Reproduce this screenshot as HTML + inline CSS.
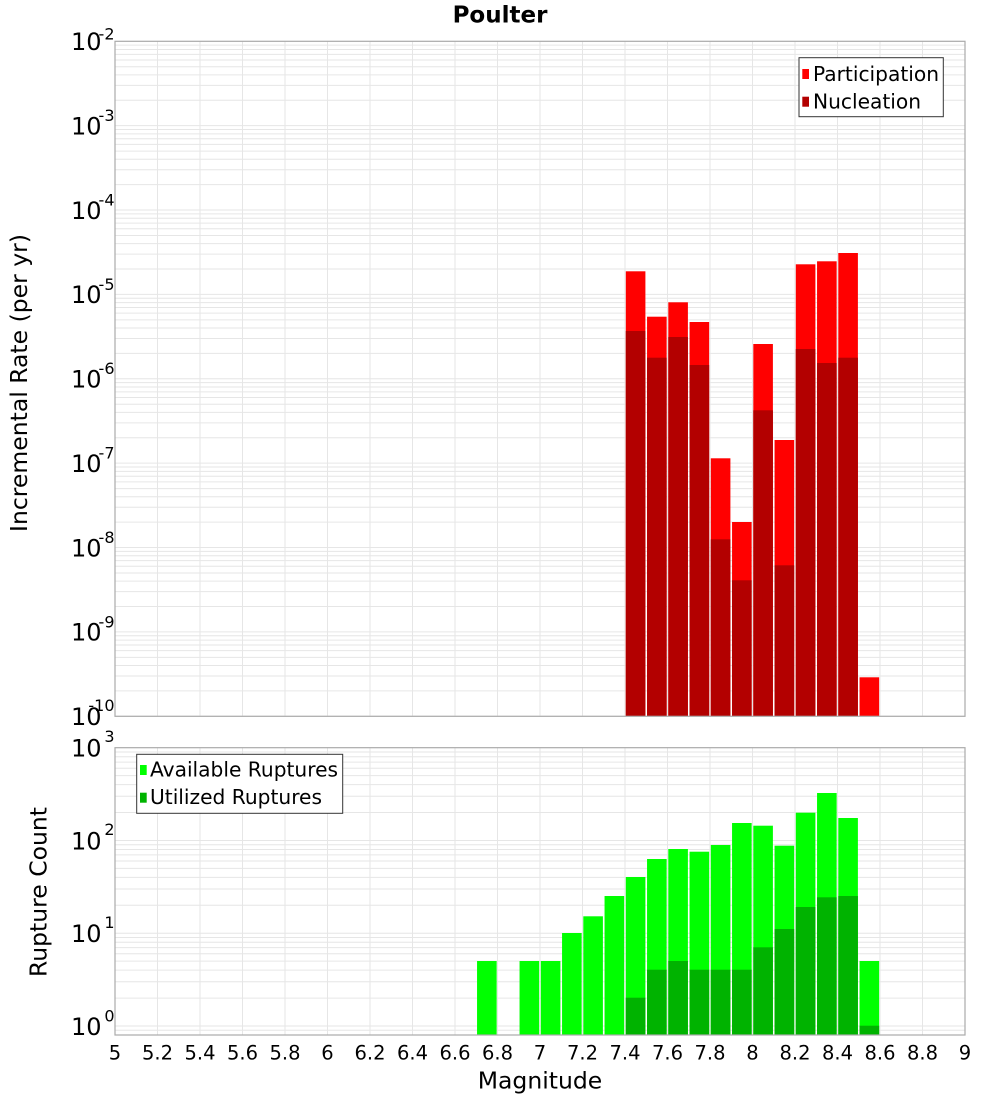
<!DOCTYPE html>
<html>
<head>
<meta charset="utf-8">
<style>
html,body{margin:0;padding:0;background:#fff;}
svg{display:block;}
text{font-family:"DejaVu Sans","Liberation Sans",sans-serif;fill:#000;}
</style>
</head>
<body>
<svg width="1000" height="1100" viewBox="0 0 1000 1100" xmlns="http://www.w3.org/2000/svg">
<defs>
  <g id="dT" stroke="#e6e6e6" stroke-width="1">
    <line x1="115" x2="965" y1="0" y2="0"/>
    <line x1="115" x2="965" y1="-25.40" y2="-25.40"/>
    <line x1="115" x2="965" y1="-40.26" y2="-40.26"/>
    <line x1="115" x2="965" y1="-50.80" y2="-50.80"/>
    <line x1="115" x2="965" y1="-58.98" y2="-58.98"/>
    <line x1="115" x2="965" y1="-65.66" y2="-65.66"/>
    <line x1="115" x2="965" y1="-71.31" y2="-71.31"/>
    <line x1="115" x2="965" y1="-76.20" y2="-76.20"/>
    <line x1="115" x2="965" y1="-80.51" y2="-80.51"/>
  </g>
  <g id="dB" stroke="#e6e6e6" stroke-width="1">
    <line x1="115" x2="965" y1="0" y2="0"/>
    <line x1="115" x2="965" y1="-27.93" y2="-27.93"/>
    <line x1="115" x2="965" y1="-44.26" y2="-44.26"/>
    <line x1="115" x2="965" y1="-55.85" y2="-55.85"/>
    <line x1="115" x2="965" y1="-64.84" y2="-64.84"/>
    <line x1="115" x2="965" y1="-72.19" y2="-72.19"/>
    <line x1="115" x2="965" y1="-78.40" y2="-78.40"/>
    <line x1="115" x2="965" y1="-83.78" y2="-83.78"/>
    <line x1="115" x2="965" y1="-88.52" y2="-88.52"/>
  </g>
  <g id="vg" stroke="#e6e6e6" stroke-width="1">
    <line x1="157.5" x2="157.5" y1="0" y2="1"/>
    <line x1="200" x2="200" y1="0" y2="1"/>
    <line x1="242.5" x2="242.5" y1="0" y2="1"/>
    <line x1="285" x2="285" y1="0" y2="1"/>
    <line x1="327.5" x2="327.5" y1="0" y2="1"/>
    <line x1="370" x2="370" y1="0" y2="1"/>
    <line x1="412.5" x2="412.5" y1="0" y2="1"/>
    <line x1="455" x2="455" y1="0" y2="1"/>
    <line x1="497.5" x2="497.5" y1="0" y2="1"/>
    <line x1="540" x2="540" y1="0" y2="1"/>
    <line x1="582.5" x2="582.5" y1="0" y2="1"/>
    <line x1="625" x2="625" y1="0" y2="1"/>
    <line x1="667.5" x2="667.5" y1="0" y2="1"/>
    <line x1="710" x2="710" y1="0" y2="1"/>
    <line x1="752.5" x2="752.5" y1="0" y2="1"/>
    <line x1="795" x2="795" y1="0" y2="1"/>
    <line x1="837.5" x2="837.5" y1="0" y2="1"/>
    <line x1="880" x2="880" y1="0" y2="1"/>
    <line x1="922.5" x2="922.5" y1="0" y2="1"/>
  </g>
</defs>

<!-- Title -->
<text x="500" y="22.5" font-size="23" font-weight="bold" text-anchor="middle">Poulter</text>

<!-- ===== TOP PLOT ===== -->
<rect x="115" y="41.3" width="850" height="675" fill="#fff"/>
<use href="#vg" transform="translate(0,41.3) scale(1,675)"/>
<use href="#dT" y="716.3"/>
<use href="#dT" y="631.93"/>
<use href="#dT" y="547.55"/>
<use href="#dT" y="463.18"/>
<use href="#dT" y="378.8"/>
<use href="#dT" y="294.43"/>
<use href="#dT" y="210.05"/>
<use href="#dT" y="125.68"/>

<!-- top bars: participation -->
<g fill="#ff0000">
  <rect x="625.8" y="271.3" width="19.6" height="445"/>
  <rect x="647.05" y="316.7" width="19.6" height="399.6"/>
  <rect x="668.3" y="302.3" width="19.6" height="414"/>
  <rect x="689.55" y="322" width="19.6" height="394.3"/>
  <rect x="710.8" y="458.3" width="19.6" height="258"/>
  <rect x="732.05" y="522" width="19.6" height="194.3"/>
  <rect x="753.3" y="344" width="19.6" height="372.3"/>
  <rect x="774.55" y="440" width="19.6" height="276.3"/>
  <rect x="795.8" y="264.3" width="19.6" height="452"/>
  <rect x="817.05" y="261.3" width="19.6" height="455"/>
  <rect x="838.3" y="253" width="19.6" height="463.3"/>
  <rect x="859.55" y="677.3" width="19.6" height="39"/>
</g>
<!-- top bars: nucleation -->
<g fill="#b30000">
  <rect x="625.8" y="331" width="19.6" height="385.3"/>
  <rect x="647.05" y="357.7" width="19.6" height="358.6"/>
  <rect x="668.3" y="337" width="19.6" height="379.3"/>
  <rect x="689.55" y="365" width="19.6" height="351.3"/>
  <rect x="710.8" y="539.3" width="19.6" height="177"/>
  <rect x="732.05" y="580.3" width="19.6" height="136"/>
  <rect x="753.3" y="410.3" width="19.6" height="306"/>
  <rect x="774.55" y="565.3" width="19.6" height="151"/>
  <rect x="795.8" y="349" width="19.6" height="367.3"/>
  <rect x="817.05" y="363" width="19.6" height="353.3"/>
  <rect x="838.3" y="357.7" width="19.6" height="358.6"/>
</g>
<rect x="115" y="41.3" width="850" height="675" fill="none" stroke="#aaaaaa" stroke-width="1.2"/>

<!-- top legend -->
<rect x="799" y="57.7" width="144.3" height="59" fill="#fff" stroke="#333" stroke-width="1"/>
<rect x="802.3" y="69" width="6.7" height="10" fill="#ff0000"/>
<rect x="802.3" y="96.7" width="6.7" height="10" fill="#b30000"/>
<text x="813" y="81" font-size="20.2">Participation</text>
<text x="813" y="108.3" font-size="20.2">Nucleation</text>

<!-- top y tick labels -->
<g font-size="24" text-anchor="end">
  <text x="101.5" y="50.1">10</text>
  <text x="101.5" y="134.5">10</text>
  <text x="101.5" y="218.9">10</text>
  <text x="101.5" y="303.2">10</text>
  <text x="101.5" y="387.6">10</text>
  <text x="101.5" y="472">10</text>
  <text x="101.5" y="556.4">10</text>
  <text x="101.5" y="640.7">10</text>
  <text x="101.5" y="725.1">10</text>
</g>
<g font-size="16" text-anchor="end">
  <text x="114.5" y="39.5">-2</text>
  <text x="114.5" y="121">-3</text>
  <text x="114.5" y="205.5">-4</text>
  <text x="114.5" y="289.8">-5</text>
  <text x="114.5" y="374.2">-6</text>
  <text x="114.5" y="458.6">-7</text>
  <text x="114.5" y="543">-8</text>
  <text x="114.5" y="627.3">-9</text>
  <text x="114.5" y="711">-10</text>
</g>

<!-- ===== BOTTOM PLOT ===== -->
<rect x="115" y="747.7" width="850" height="287.3" fill="#fff"/>
<use href="#vg" transform="translate(0,747.7) scale(1,287.3)"/>
<use href="#dB" y="1026"/>
<use href="#dB" y="933.24"/>
<use href="#dB" y="840.47"/>
<line x1="115" x2="965" y1="1030.25" y2="1030.25" stroke="#e6e6e6" stroke-width="1"/>

<g fill="#00ff00">
  <rect x="477.05" y="961" width="19.6" height="74"/>
  <rect x="519.55" y="961" width="19.6" height="74"/>
  <rect x="540.8" y="961" width="19.6" height="74"/>
  <rect x="562.05" y="933" width="19.6" height="102"/>
  <rect x="583.3" y="916.3" width="19.6" height="118.7"/>
  <rect x="604.55" y="896" width="19.6" height="139"/>
  <rect x="625.8" y="877" width="19.6" height="158"/>
  <rect x="647.05" y="859" width="19.6" height="176"/>
  <rect x="668.3" y="849" width="19.6" height="186"/>
  <rect x="689.55" y="851.7" width="19.6" height="183.3"/>
  <rect x="710.8" y="845" width="19.6" height="190"/>
  <rect x="732.05" y="823" width="19.6" height="212"/>
  <rect x="753.3" y="825.7" width="19.6" height="209.3"/>
  <rect x="774.55" y="845.7" width="19.6" height="189.3"/>
  <rect x="795.8" y="812.7" width="19.6" height="222.3"/>
  <rect x="817.05" y="793" width="19.6" height="242"/>
  <rect x="838.3" y="818" width="19.6" height="217"/>
  <rect x="859.55" y="961" width="19.6" height="74"/>
</g>
<g fill="#00b300">
  <rect x="625.8" y="997.7" width="19.6" height="37.3"/>
  <rect x="647.05" y="969.7" width="19.6" height="65.3"/>
  <rect x="668.3" y="961" width="19.6" height="74"/>
  <rect x="689.55" y="969.7" width="19.6" height="65.3"/>
  <rect x="710.8" y="969.7" width="19.6" height="65.3"/>
  <rect x="732.05" y="969.7" width="19.6" height="65.3"/>
  <rect x="753.3" y="947.3" width="19.6" height="87.7"/>
  <rect x="774.55" y="929" width="19.6" height="106"/>
  <rect x="795.8" y="907" width="19.6" height="128"/>
  <rect x="817.05" y="897.3" width="19.6" height="137.7"/>
  <rect x="838.3" y="896" width="19.6" height="139"/>
  <rect x="859.55" y="1025.7" width="19.6" height="9.3"/>
</g>
<rect x="115" y="747.7" width="850" height="287.3" fill="none" stroke="#aaaaaa" stroke-width="1.2"/>

<!-- bottom legend -->
<rect x="136.7" y="754.3" width="206" height="59" fill="#fff" stroke="#333" stroke-width="1"/>
<rect x="140" y="765" width="6.7" height="10" fill="#00ff00"/>
<rect x="140" y="792.7" width="6.7" height="10" fill="#00b300"/>
<text x="150" y="776.7" font-size="20.2">Available Ruptures</text>
<text x="150" y="804" font-size="20.2">Utilized Ruptures</text>

<!-- bottom y tick labels -->
<g font-size="24" text-anchor="end">
  <text x="101.5" y="756.5">10</text>
  <text x="101.5" y="849.3">10</text>
  <text x="101.5" y="942">10</text>
  <text x="101.5" y="1034.8">10</text>
</g>
<g font-size="16" text-anchor="end">
  <text x="114.5" y="742">3</text>
  <text x="114.5" y="835">2</text>
  <text x="114.5" y="928">1</text>
  <text x="114.5" y="1021.7">0</text>
</g>

<!-- x tick labels -->
<g font-size="19.5" text-anchor="middle">
  <text x="115" y="1059.3">5</text>
  <text x="157.5" y="1059.3">5.2</text>
  <text x="200" y="1059.3">5.4</text>
  <text x="242.5" y="1059.3">5.6</text>
  <text x="285" y="1059.3">5.8</text>
  <text x="327.5" y="1059.3">6</text>
  <text x="370" y="1059.3">6.2</text>
  <text x="412.5" y="1059.3">6.4</text>
  <text x="455" y="1059.3">6.6</text>
  <text x="497.5" y="1059.3">6.8</text>
  <text x="540" y="1059.3">7</text>
  <text x="582.5" y="1059.3">7.2</text>
  <text x="625" y="1059.3">7.4</text>
  <text x="667.5" y="1059.3">7.6</text>
  <text x="710" y="1059.3">7.8</text>
  <text x="752.5" y="1059.3">8</text>
  <text x="795" y="1059.3">8.2</text>
  <text x="837.5" y="1059.3">8.4</text>
  <text x="880" y="1059.3">8.6</text>
  <text x="922.5" y="1059.3">8.8</text>
  <text x="965" y="1059.3">9</text>
</g>

<!-- axis titles -->
<text x="540" y="1088.5" font-size="23.5" text-anchor="middle">Magnitude</text>
<text transform="translate(27,383) rotate(-90)" x="0" y="0" font-size="23.5" text-anchor="middle">Incremental Rate (per yr)</text>
<text transform="translate(46.5,892) rotate(-90)" x="0" y="0" font-size="23.5" text-anchor="middle">Rupture Count</text>
</svg>
</body>
</html>
